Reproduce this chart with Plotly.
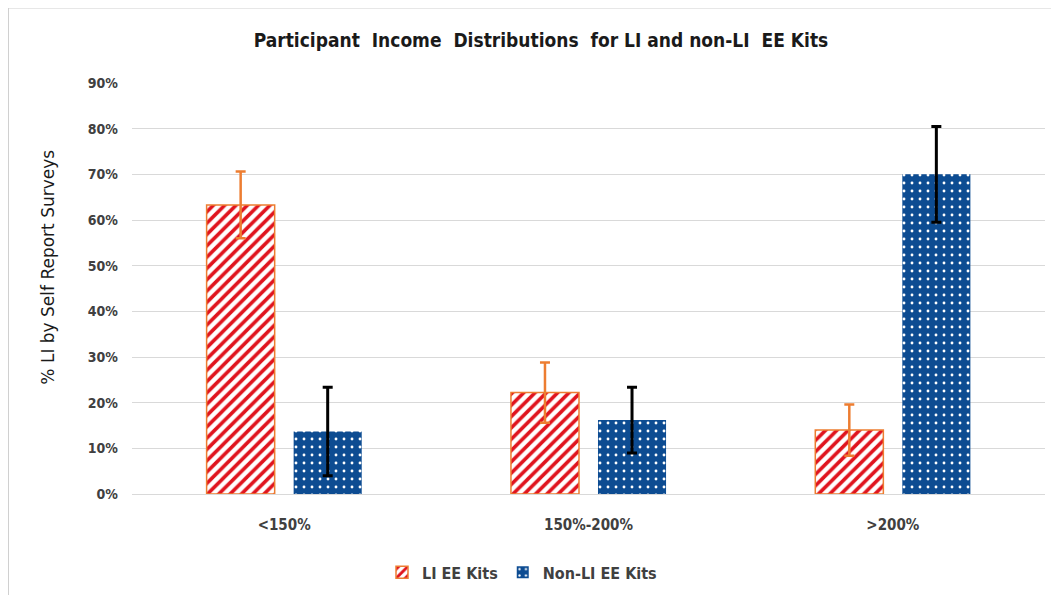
import plotly.graph_objects as go

categories = ["<150%", "150%-200%", ">200%"]
li_values = [0.633, 0.222, 0.140]
li_errors = [0.073, 0.066, 0.056]
nonli_values = [0.137, 0.162, 0.700]
nonli_errors = [0.097, 0.072, 0.105]
y_ticks = [0, 0.1, 0.2, 0.3, 0.4, 0.5, 0.6, 0.7, 0.8, 0.9]

FONT = "'DejaVu Sans Condensed', 'DejaVu Sans', sans-serif"
ORANGE = "#ED7D31"
RED = "#E0141E"
BLUE = "#0D4C92"

fig = go.Figure()
fig.add_trace(go.Bar(
    name="<b>LI EE Kits</b>", x=categories, y=li_values,
    marker=dict(color="white", line=dict(color=ORANGE, width=1.5),
                pattern=dict(shape="/", fgcolor=RED, bgcolor="white", size=8,
                             solidity=0.45, fgopacity=1)),
    error_y=dict(type="data", array=li_errors, color=ORANGE, thickness=2.5, width=5),
))
fig.add_trace(go.Bar(
    name="<b>Non-LI EE Kits</b>", x=categories, y=nonli_values,
    marker=dict(color=BLUE, line=dict(color=BLUE, width=0),
                pattern=dict(shape=".", fgcolor="white", bgcolor=BLUE, size=8,
                             solidity=0.1, fgopacity=1)),
    error_y=dict(type="data", array=nonli_errors, color="black", thickness=3, width=5),
))

# page has an 8px body margin; figure coordinates are offset by it
OFF = 8
W, H = 1059 - 2 * OFF, 603 - 2 * OFF
L, T = 132 - OFF, 83 - OFF
R = W - (1045 - OFF)
B = H - (497 - OFF)
pw, ph = W - L - R, H - T - B


def px_x(px):
    return (px - OFF - L) / pw


def px_y(py):
    return (ph + T - (py - OFF)) / ph


fig.update_layout(
    width=W, height=H,
    margin=dict(l=L, r=R, t=T, b=B),
    paper_bgcolor="white", plot_bgcolor="white",
    barmode="group", bargap=0.428, bargroupgap=0.218,
    font=dict(family=FONT, color="#404040", size=14),
    title=dict(text="<b>Participant  Income  Distributions  for LI and non-LI  EE Kits</b>",
               x=(541 - OFF) / W, xanchor="center", xref="container",
               y=1 - (40 - OFF) / H, yanchor="middle",
               font=dict(family=FONT, size=19, color="#1a1a1a")),
    xaxis=dict(showgrid=False, showline=False, ticks="",
               tickfont=dict(size=15, color="#404040", weight="bold"),
               ticklabelstandoff=20),
    yaxis=dict(range=[0, 0.9], tickvals=y_ticks, tickformat=".0%",
               showgrid=True, gridcolor="#D9D9D9", gridwidth=1, zeroline=True,
               zerolinecolor="#D9D9D9", zerolinewidth=1, showline=False, ticks="",
               tickfont=dict(size=14, color="#404040", weight="bold"), ticklabelstandoff=13),
    legend=dict(orientation="h", x=px_x(522), xanchor="center", y=px_y(576), yanchor="middle",
                font=dict(size=16, color="#404040"), traceorder="normal",
                itemwidth=30),
    annotations=[
        dict(text="% LI by Self Report Surveys", textangle=-90, showarrow=False,
             xref="paper", yref="paper", x=px_x(48), y=px_y(269),
             xanchor="center", yanchor="middle",
             font=dict(family="'DejaVu Sans', sans-serif", size=17, color="#1a1a1a")),
    ],
    shapes=[
        dict(type="line", xref="paper", yref="paper", x0=px_x(8), x1=px_x(8),
             y0=px_y(7), y1=px_y(603), line=dict(color="#D0D0D0", width=2)),
        dict(type="line", xref="paper", yref="paper", x0=px_x(8), x1=px_x(1059),
             y0=px_y(7), y1=px_y(7), line=dict(color="#D0D0D0", width=2)),
    ],
)

fig.write_html("out.html")
